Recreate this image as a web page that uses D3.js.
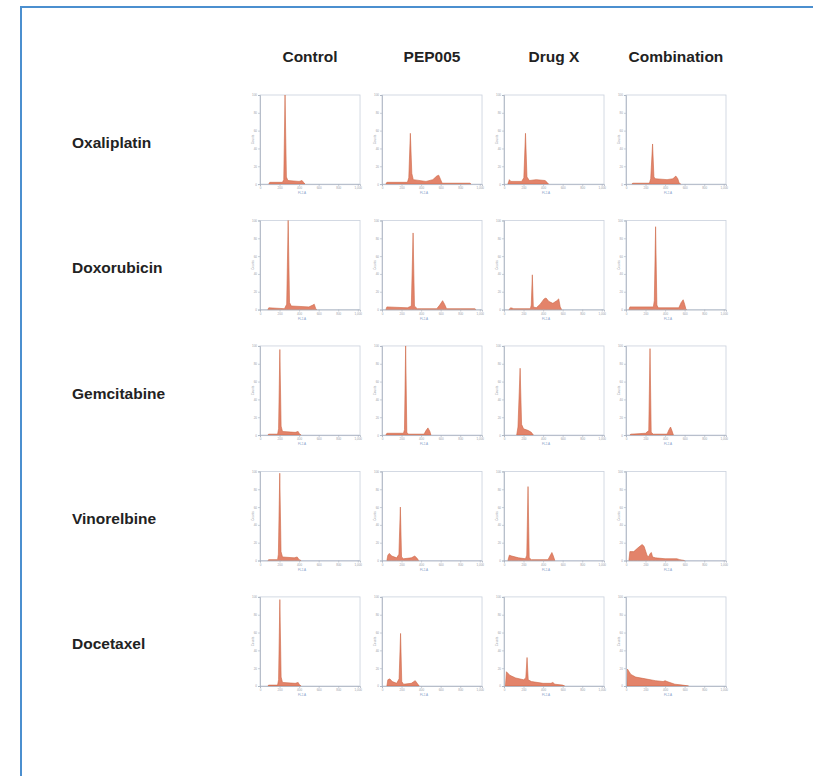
<!DOCTYPE html>
<html lang="en">
<head>
    <meta charset="UTF-8">
    <title>Cell cycle histograms</title>
    <script src="https://cdnjs.cloudflare.com/ajax/libs/d3/7.8.5/d3.min.js"></script>
    <style>
        body { margin: 0; background: #fff; }
        svg { display: block; }
        .head { font-family: Arial, "Liberation Sans", sans-serif; font-weight: bold; font-size: 15.5px; fill: #222; }
        .tiny { font-family: Arial, "Liberation Sans", sans-serif; font-size: 3px; fill: #9aa0aa; }
    </style>
</head>
<body>
    <svg id="chart" width="813" height="776"></svg>

    <script>
        const treatments = ['Control', 'PEP005', 'Drug X', 'Combination'];
        const drugs = ['Oxaliplatin', 'Doxorubicin', 'Gemcitabine', 'Vinorelbine', 'Docetaxel'];

        // histogram outlines per row: [channel, % of max count], one list per column
        const oxaliplatinHist = [
            [[90,0],[100,2],[230,2],[243,5],[256,100],[270,8],[285,4],[400,3],[430,4],[445,2],[460,0]],
            [[40,0],[50,2],[260,2],[274,7],[290,57],[305,12],[320,5],[450,3],[520,5],[560,9],[580,10],[600,5],[615,1],[900,1],[910,0]],
            [[40,0],[55,5],[70,3],[180,3],[203,7],[220,57],[235,8],[260,4],[330,5],[420,4],[440,2],[455,0]],
            [[60,0],[70,1],[240,1],[253,6],[272,45],[286,8],[300,6],[420,5],[480,6],[510,9],[530,6],[545,1],[560,0]]
        ];
        const doxorubicinHist = [
            [[80,0],[90,2],[250,1],[273,6],[288,100],[302,8],[320,4],[500,3],[540,5],[555,6],[570,1],[580,0]],
            [[40,0],[50,3],[260,2],[300,4],[318,86],[332,4],[360,1],[560,1],[590,5],[620,10],[640,6],[660,1],[950,1],[960,0]],
            [[50,0],[70,2],[100,1],[270,1],[279,5],[290,39],[300,3],[330,2],[370,6],[410,12],[430,13],[460,9],[500,7],[540,10],[560,12],[575,3],[590,0]],
            [[30,0],[40,3],[280,3],[290,10],[303,93],[316,5],[330,2],[540,2],[565,8],[585,11],[600,6],[612,1],[620,0]]
        ];
        const gemcitabineHist = [
            [[80,0],[90,1],[180,1],[190,7],[203,96],[216,10],[230,4],[360,3],[390,4],[405,1],[420,0]],
            [[40,0],[50,2],[220,2],[230,6],[242,100],[254,3],[270,1],[430,1],[450,5],[470,8],[490,4],[500,0]],
            [[130,0],[143,9],[165,75],[180,12],[200,7],[250,5],[280,3],[300,0]],
            [[40,0],[50,1],[200,2],[233,5],[246,97],[258,3],[280,1],[420,1],[440,6],[456,9],[470,5],[485,0]]
        ];
        const vinorelbineHist = [
            [[80,0],[90,1],[180,1],[188,7],[202,98],[215,10],[230,4],[350,3],[380,4],[400,1],[420,0]],
            [[50,0],[60,6],[75,8],[100,5],[150,3],[173,7],[188,60],[200,4],[220,2],[300,3],[335,5],[355,3],[375,0]],
            [[40,0],[55,6],[80,5],[150,3],[220,2],[233,6],[246,83],[258,3],[280,1],[450,1],[470,5],[490,9],[505,5],[520,0]],
            [[30,0],[40,10],[80,10],[120,14],[165,18],[185,16],[215,6],[230,4],[248,8],[260,9],[272,4],[300,3],[400,2],[520,2],[550,1],[600,0]]
        ];
        const docetaxelHist = [
            [[80,0],[90,1],[180,1],[190,7],[203,97],[216,10],[230,4],[360,3],[390,4],[405,1],[420,0]],
            [[50,0],[60,7],[80,8],[105,5],[150,3],[175,8],[190,59],[202,5],[220,2],[300,3],[340,6],[360,3],[380,0]],
            [[15,0],[25,16],[60,12],[120,9],[200,7],[223,9],[236,32],[248,7],[280,5],[400,3],[480,3],[500,4],[520,2],[600,1],[620,0]],
            [[10,0],[15,19],[50,13],[100,10],[200,8],[300,6],[380,5],[400,6],[420,5],[500,2],[580,1],[640,0]]
        ];
        const histograms = [oxaliplatinHist, doxorubicinHist, gemcitabineHist, vinorelbineHist, docetaxelHist];

        const xTicks = [0, 200, 400, 600, 800, 1000];
        const yTicks = [0, 20, 40, 60, 80, 100];

        const svg = d3.select('#chart');

        // blue frame, open to the right and bottom
        svg.append('path')
            .attr('d', 'M21,776 V7 H813')
            .attr('fill', 'none')
            .attr('stroke', '#4b8fcf')
            .attr('stroke-width', 2);

        const col = d3.scaleBand().domain(treatments).range([260, 726]).paddingInner(0.18);
        const row = d3.scaleBand().domain(drugs).range([95, 686]).paddingInner(0.29);

        const pw = col.bandwidth();
        const ph = row.bandwidth();
        const x = d3.scaleLinear().domain([0, 1023]).range([0, pw]);
        const y = d3.scaleLinear().domain([0, 100]).range([ph, 0]);

        svg.selectAll('text.colhead')
            .data(treatments)
            .enter()
            .append('text')
            .attr('class', 'head colhead')
            .attr('x', d => col(d) + pw / 2)
            .attr('y', 62)
            .attr('text-anchor', 'middle')
            .text(d => d);

        svg.selectAll('text.rowhead')
            .data(drugs)
            .enter()
            .append('text')
            .attr('class', 'head rowhead')
            .attr('x', 72)
            .attr('y', d => row(d) + ph / 2 + 8)
            .text(d => d);

        const area = d3.area()
            .x(d => x(d[0]))
            .y0(y(0))
            .y1(d => y(d[1]));

        drugs.forEach((drug, ri) => {
            treatments.forEach((tr, ci) => {
                const g = svg.append('g')
                    .attr('transform', `translate(${col(tr)},${row(drug)})`);

                g.append('rect')
                    .attr('width', pw)
                    .attr('height', ph)
                    .attr('fill', '#fff')
                    .attr('stroke', '#c9d0dc')
                    .attr('stroke-width', 0.8);

                g.append('path')
                    .datum(histograms[ri][ci])
                    .attr('d', area)
                    .attr('fill', '#e3836a')
                    .attr('stroke', '#cc6744')
                    .attr('stroke-width', 0.6);

                const xa = g.append('g')
                    .attr('transform', `translate(0,${ph})`)
                    .call(d3.axisBottom(x).tickValues(xTicks).tickSize(2).tickPadding(1));
                const ya = g.append('g')
                    .call(d3.axisLeft(y).tickValues(yTicks).tickSize(2).tickPadding(1));

                [xa, ya].forEach(a => {
                    a.select('.domain').attr('stroke', '#aab2c0').attr('stroke-width', 0.8);
                    a.selectAll('.tick line').attr('stroke', '#aab2c0').attr('stroke-width', 0.6);
                    a.selectAll('.tick text').attr('class', 'tiny').attr('font-size', null).attr('font-family', null);
                });

                g.append('text')
                    .attr('class', 'tiny')
                    .attr('x', pw * 0.42)
                    .attr('y', ph + 10)
                    .attr('text-anchor', 'middle')
                    .style('fill', '#7f9cc8')
                    .text('FL2-A');

                g.append('text')
                    .attr('class', 'tiny')
                    .attr('transform', `translate(-6,${ph / 2}) rotate(-90)`)
                    .attr('text-anchor', 'middle')
                    .text('Counts');
            });
        });
    </script>
</body>
</html>
